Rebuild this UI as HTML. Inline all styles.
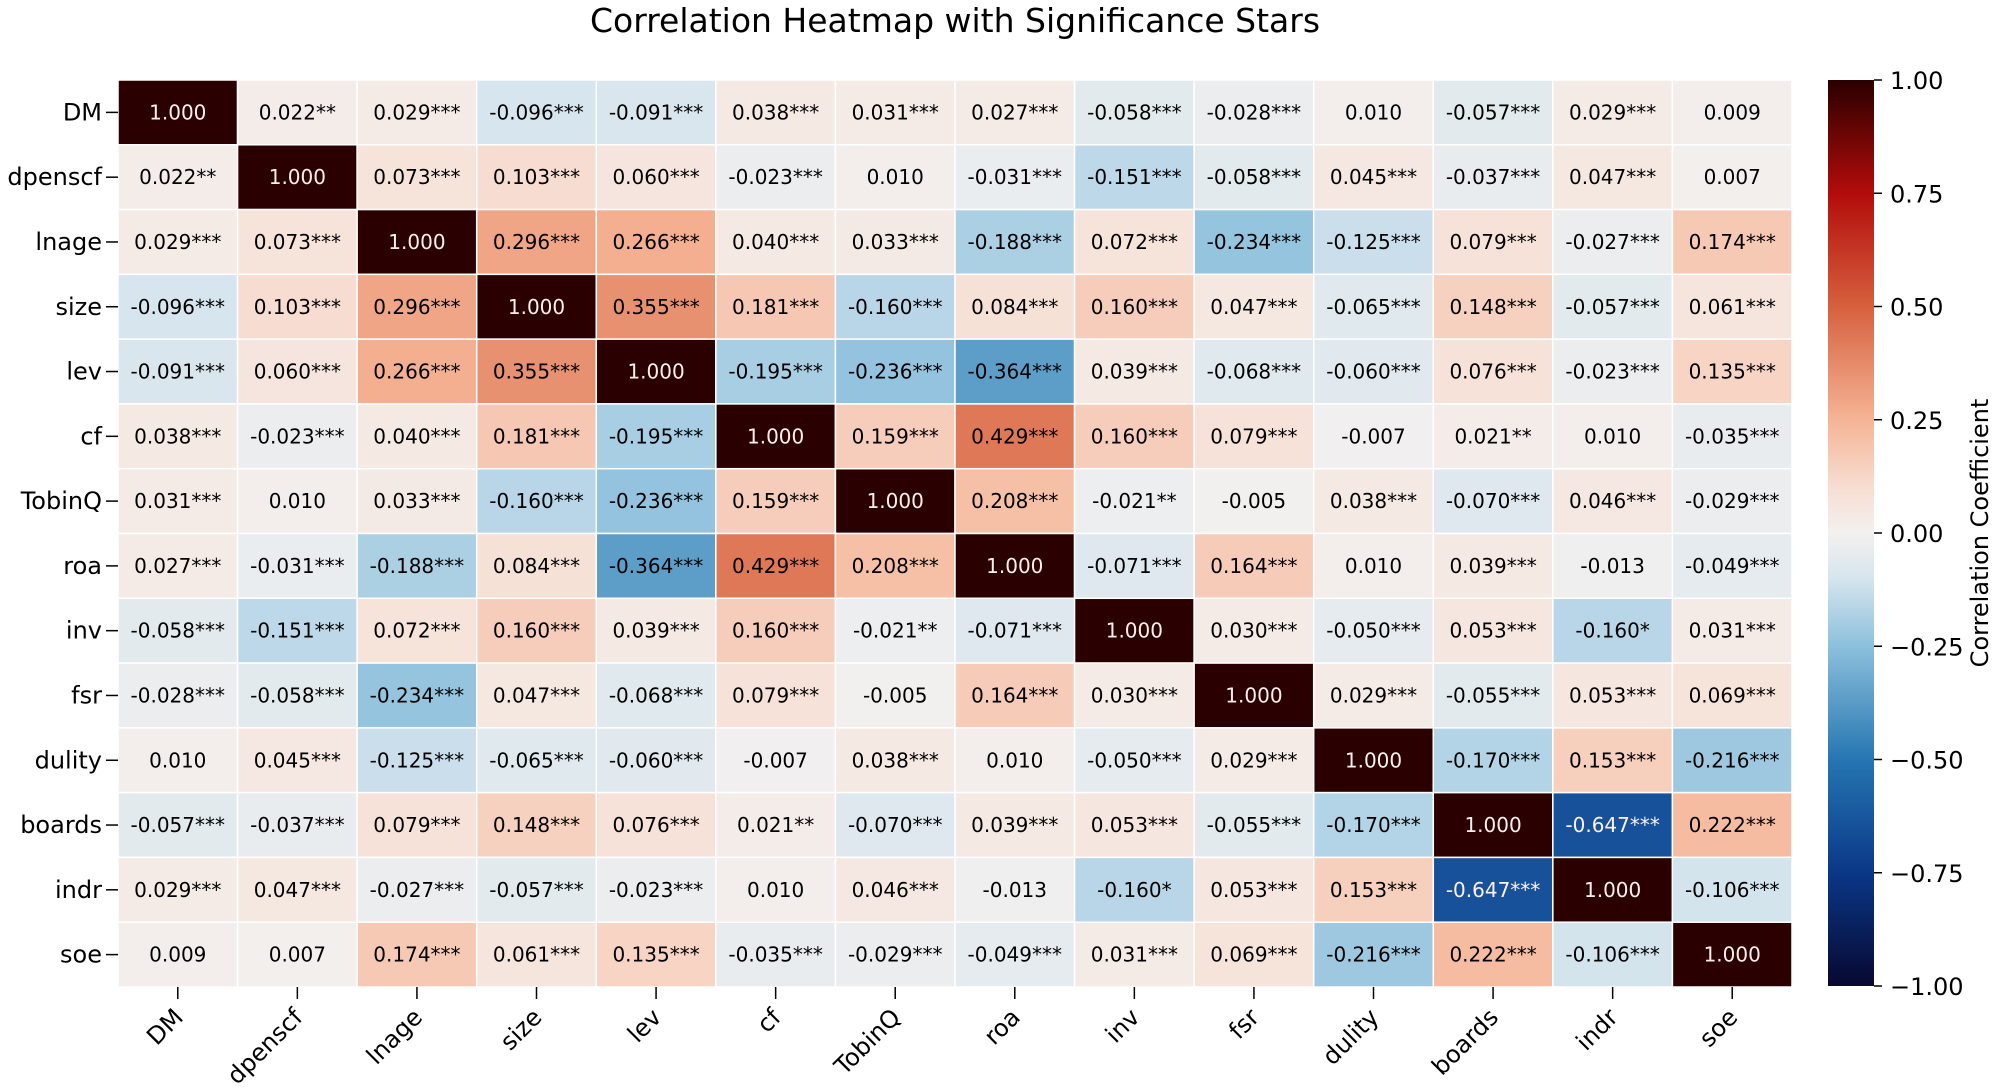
<!DOCTYPE html>
<html><head><meta charset="utf-8">
<style>
html,body{margin:0;padding:0;background:#fff;}
#wrap{position:relative;width:2000px;height:1089px;overflow:hidden;}
svg{display:block;font-family:"DejaVu Sans","Liberation Sans",sans-serif;}
.xl{position:absolute;left:0;top:0;font-family:"DejaVu Sans","Liberation Sans",sans-serif;font-size:24px;line-height:24px;white-space:nowrap;transform-origin:0 0;color:#000;}
</style></head>
<body>
<div id="wrap">
<svg id="chart" width="2000" height="1089" viewBox="0 0 2000 1089" xmlns="http://www.w3.org/2000/svg">
<defs><linearGradient id="cbgrad" x1="0" y1="1" x2="0" y2="0"></linearGradient></defs>
<text x="955" y="32" text-anchor="middle" font-size="33" fill="#000">Correlation Heatmap with Significance Stars</text>
<g id="cells"></g><g id="axes"></g><g id="cbar"></g>
</svg>
</div>
<script>
const labels = ["DM","dpenscf","lnage","size","lev","cf","TobinQ","roa","inv","fsr","dulity","boards","indr","soe"];
const values = [
[1,0.022,0.029,-0.096,-0.091,0.038,0.031,0.027,-0.058,-0.028,0.010,-0.057,0.029,0.009],
[0.022,1,0.073,0.103,0.060,-0.023,0.010,-0.031,-0.151,-0.058,0.045,-0.037,0.047,0.007],
[0.029,0.073,1,0.296,0.266,0.040,0.033,-0.188,0.072,-0.234,-0.125,0.079,-0.027,0.174],
[-0.096,0.103,0.296,1,0.355,0.181,-0.160,0.084,0.160,0.047,-0.065,0.148,-0.057,0.061],
[-0.091,0.060,0.266,0.355,1,-0.195,-0.236,-0.364,0.039,-0.068,-0.060,0.076,-0.023,0.135],
[0.038,-0.023,0.040,0.181,-0.195,1,0.159,0.429,0.160,0.079,-0.007,0.021,0.010,-0.035],
[0.031,0.010,0.033,-0.160,-0.236,0.159,1,0.208,-0.021,-0.005,0.038,-0.070,0.046,-0.029],
[0.027,-0.031,-0.188,0.084,-0.364,0.429,0.208,1,-0.071,0.164,0.010,0.039,-0.013,-0.049],
[-0.058,-0.151,0.072,0.160,0.039,0.160,-0.021,-0.071,1,0.030,-0.050,0.053,-0.160,0.031],
[-0.028,-0.058,-0.234,0.047,-0.068,0.079,-0.005,0.164,0.030,1,0.029,-0.055,0.053,0.069],
[0.010,0.045,-0.125,-0.065,-0.060,-0.007,0.038,0.010,-0.050,0.029,1,-0.170,0.153,-0.216],
[-0.057,-0.037,0.079,0.148,0.076,0.021,-0.070,0.039,0.053,-0.055,-0.170,1,-0.647,0.222],
[0.029,0.047,-0.027,-0.057,-0.023,0.010,0.046,-0.013,-0.160,0.053,0.153,-0.647,1,-0.106],
[0.009,0.007,0.174,0.061,0.135,-0.035,-0.029,-0.049,0.031,0.069,-0.216,0.222,-0.106,1]];
const stars = [
["","**","***","***","***","***","***","***","***","***","","***","***",""],
["**","","***","***","***","***","","***","***","***","***","***","***",""],
["***","***","","***","***","***","***","***","***","***","***","***","***","***"],
["***","***","***","","***","***","***","***","***","***","***","***","***","***"],
["***","***","***","***","","***","***","***","***","***","***","***","***","***"],
["***","***","***","***","***","","***","***","***","***","","**","","***"],
["***","","***","***","***","***","","***","**","","***","***","***","***"],
["***","***","***","***","***","***","***","","***","***","","***","","***"],
["***","***","***","***","***","***","**","***","","***","***","***","*","***"],
["***","***","***","***","***","***","","***","***","","***","***","***","***"],
["","***","***","***","***","","***","","***","***","","***","***","***"],
["***","***","***","***","***","**","***","***","***","***","***","","***","***"],
["***","***","***","***","***","","***","","*","***","***","***","","***"],
["","","***","***","***","***","***","***","***","***","***","***","***",""]];
const cbTicks = [1,0.75,0.5,0.25,0,-0.25,-0.5,-0.75,-1];

const NS="http://www.w3.org/2000/svg";
const X0=118,X1=1792,Y0=80,Y1=987;
const n=labels.length, cw=(X1-X0)/n, ch=(Y1-Y0)/n;
const xPos=i=>X0+i*cw, yPos=j=>Y0+j*ch;
const CB_X=1828,CB_W=46,CB_Y0=80,CB_Y1=986;
const cbY=v=>CB_Y1-(v+1)/2*(CB_Y1-CB_Y0);
const cmap=[[-1,[8,8,48]],[-0.75,[10,55,135]],[-0.5,[38,118,178]],[-0.25,[140,192,220]],[-0.1,[214,229,238]],[0,[243,240,239]],[0.1,[247,222,210]],[0.25,[245,180,150]],[0.5,[214,96,62]],[0.75,[178,12,10]],[1,[42,0,0]]];
function color(v){
  for(let k=0;k<cmap.length-1;k++){
    const a=cmap[k],b=cmap[k+1];
    if(v<=b[0]){const t=(v-a[0])/(b[0]-a[0]);
      const c=a[1].map((q,i)=>Math.round(q+(b[1][i]-q)*t));return `rgb(${c.join(',')})`;}
  }
  return 'rgb(42,0,0)';
}
function mk(tag,attrs,parent,text){const e=document.createElementNS(NS,tag);for(const k in attrs)e.setAttribute(k,attrs[k]);if(text!==undefined)e.textContent=text;parent.appendChild(e);return e;}
const cells=document.getElementById('cells'),axes=document.getElementById('axes'),cbar=document.getElementById('cbar');
const wrap=document.getElementById('wrap');
for(let r=0;r<n;r++)for(let c=0;c<n;c++){
  const v=values[r][c];
  const rect=mk('rect',{x:xPos(c),y:yPos(r),width:cw,height:ch,fill:color(v),stroke:'#fff','stroke-width':1.5},cells);
  
  
  const t=mk('text',{x:xPos(c)+cw/2,y:yPos(r)+ch/2+7,'text-anchor':'middle','font-size':20,fill:Math.abs(v)>0.55?'#fff0f0':'#000'},cells,v.toFixed(3)+stars[r][c]);
  
  
}
for(let i=0;i<n;i++){
  const yl=mk('text',{x:102,y:yPos(i)+ch/2+8,'text-anchor':'end','font-size':24},axes,labels[i]);
  
  
  const yt=mk('line',{x1:106,x2:118,y1:yPos(i)+ch/2,y2:yPos(i)+ch/2,stroke:'#000','stroke-width':1.5},axes);
  
  
  const xc=xPos(i)+cw/2;
  const xt=mk('line',{x1:xc,x2:xc,y1:Y1,y2:Y1+12,stroke:'#000','stroke-width':1.5},axes);
  
  
  const d=document.createElement('div');
  d.className='xl';
  d.textContent=labels[i];
  d.style.transform=`translate(${xc+6}px,${Y1+31}px) rotate(-45deg) translate(-100%,-19px)`;
  
  
  wrap.appendChild(d);
}
const grad=document.getElementById('cbgrad');
for(let k=0;k<=40;k++){const v=-1+k/20;mk('stop',{offset:(k/40),'stop-color':color(v)},grad);}
const bar=mk('rect',{x:CB_X,y:CB_Y0,width:CB_W,height:CB_Y1-CB_Y0,fill:'url(#cbgrad)'},cbar);


cbTicks.forEach(v=>{
  const y=cbY(v);
  const tl=mk('line',{x1:CB_X+CB_W,x2:CB_X+CB_W+8,y1:y,y2:y,stroke:'#000','stroke-width':1.5},cbar);
  
  
  const s=(v<0?'\u2212':'')+Math.abs(v).toFixed(2);
  const tx=mk('text',{x:CB_X+CB_W+16,y:y+9,'font-size':24},cbar,s);
  
  
});
const cl=mk('text',{transform:`translate(1988,${(CB_Y0+CB_Y1)/2}) rotate(-90)`,'text-anchor':'middle','font-size':24},cbar,'Correlation Coefficient');


</script>
</body></html>
